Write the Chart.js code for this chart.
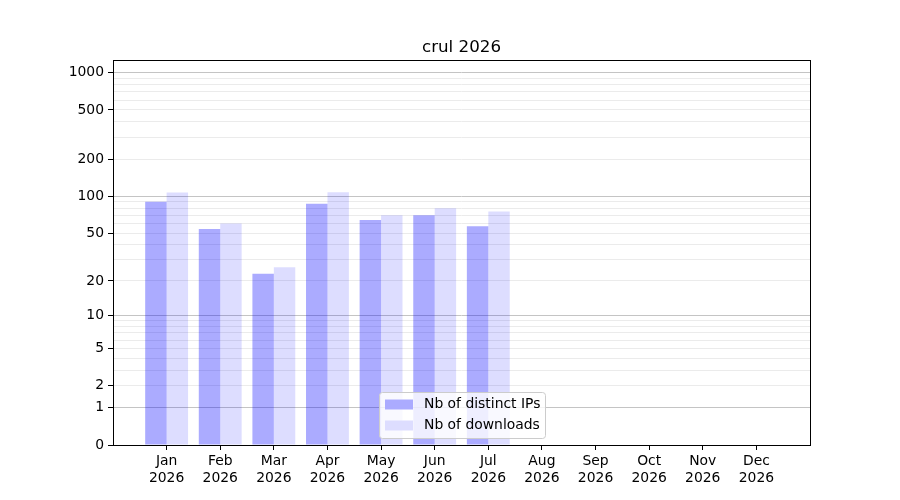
<!DOCTYPE html>
<html>
<head>
<meta charset="utf-8">
<script src="https://cdn.jsdelivr.net/npm/chart.js@4/dist/chart.umd.min.js"></script>
<style>
  html,body{margin:0;padding:0;background:#fff;}
  #wrap{width:900px;height:500px;position:relative;}
</style>
</head>
<body>
<div id="wrap"><canvas id="c"></canvas></div>
<script>
// crul 2026 — monthly counts, y axis is log10(n+1)
const months=['Jan','Feb','Mar','Apr','May','Jun','Jul','Aug','Sep','Oct','Nov','Dec'];
const yearLabel='2026';
const chartTitle='crul 2026';
const ipsValues=[90,54,23,87,64,70,57];
const downloadValues=[107,60,26,108,70,80,75];
const yTickLabels=[0,1,2,5,10,20,50,100,200,500,1000];
const yMajorLines=[1,10,100,1000];

const tf=v=>Math.log10(v+1);
const pts=arr=>arr.map((v,i)=>({x:i,y:tf(v)}));

// every gridline value: 1..9, 10..90, 100..900, 1000
const gridVals=[];
[1,10,100].forEach(d=>{for(let k=1;k<10;k++)gridVals.push(k*d);});
gridVals.push(1000);
const allTicks=[0,...gridVals];

Chart.defaults.font.family='"DejaVu Sans", sans-serif';
Chart.defaults.color='#000';

const frame={id:'frame',afterDraw(chart){
  const {ctx,chartArea:a}=chart;
  ctx.save();
  ctx.strokeStyle='#000';ctx.lineWidth=1;
  ctx.strokeRect(Math.round(a.left)+0.5,Math.round(a.top)+0.5,Math.round(a.right-a.left),Math.round(a.bottom-a.top));
  // title centred over the axes
  ctx.fillStyle='#000';ctx.font='16.7px "DejaVu Sans", sans-serif';
  ctx.textAlign='center';ctx.textBaseline='alphabetic';
  ctx.fillText(chartTitle,(a.left+a.right)/2,51.5);
  // legend box, lower center inside the axes
  const ds=chart.data.datasets;
  const w=166,h=46,x=Math.round((a.left+a.right)/2-w/2)+0.5,y=392.5;
  ctx.beginPath();ctx.roundRect(x,y,w,h,3);
  ctx.fillStyle='rgba(255,255,255,0.8)';ctx.fill();
  ctx.strokeStyle='#cccccc';ctx.stroke();
  ctx.font='13.9px "DejaVu Sans", sans-serif';
  ctx.textAlign='left';ctx.textBaseline='middle';
  ds.forEach((d,i)=>{
    const ry=y+12+i*21;
    ctx.fillStyle='#fff';ctx.fillRect(x+5.5,ry-5,28,10);
    ctx.fillStyle=d.backgroundColor;ctx.fillRect(x+5.5,ry-5,28,10);
    ctx.fillStyle='#000';ctx.fillText(d.label,x+44.5,ry);
  });
  ctx.restore();
}};

new Chart(document.getElementById('c'),{type:'bar',
  data:{datasets:[
    {label:'Nb of distinct IPs',data:pts(ipsValues),backgroundColor:'rgba(0,0,255,0.33)',borderWidth:0},
    {label:'Nb of downloads',data:pts(downloadValues),backgroundColor:'rgba(0,0,255,0.135)',borderWidth:0}
  ]},
  options:{responsive:true,maintainAspectRatio:false,animation:false,
    categoryPercentage:0.8,barPercentage:1.0,
    layout:{padding:{top:60,right:90,bottom:0,left:0}},
    plugins:{legend:{display:false},tooltip:{enabled:false},title:{display:false}},
    scales:{
      x:{type:'linear',min:-1,max:12,offset:false,
        afterBuildTicks:s=>{s.ticks=months.map((m,i)=>({value:i}));},
        afterFit:s=>{s.height=55;},
        border:{display:false},
        grid:{offset:false,drawOnChartArea:false,drawTicks:true,tickLength:5,tickColor:'#000'},
        ticks:{autoSkip:false,maxRotation:0,padding:3,font:{size:13.9},
          callback:v=>Number.isInteger(v)&&months[v]?[months[v],yearLabel]:''}},
      y:{type:'linear',min:0,max:3.102,
        afterBuildTicks:s=>{s.ticks=allTicks.map(v=>({value:tf(v)}));},
        afterFit:s=>{s.width=113;},
        border:{display:false},
        grid:{drawTicks:true,tickLength:5,
          color:c=>{const v=Math.round(Math.pow(10,c.tick.value)-1);
            return v===0?'rgba(0,0,0,0)':yMajorLines.includes(v)?'#c4c4c4':'#ebebeb';},
          tickColor:c=>{const v=Math.round(Math.pow(10,c.tick.value)-1);
            return yTickLabels.includes(v)?'#000':'rgba(0,0,0,0)';}},
        ticks:{autoSkip:false,padding:4,font:{size:13.9},
          callback:val=>{const v=Math.round(Math.pow(10,val)-1);return yTickLabels.includes(v)?String(v):'';}}}
    }},
  plugins:[frame]
});
</script>
</body>
</html>
